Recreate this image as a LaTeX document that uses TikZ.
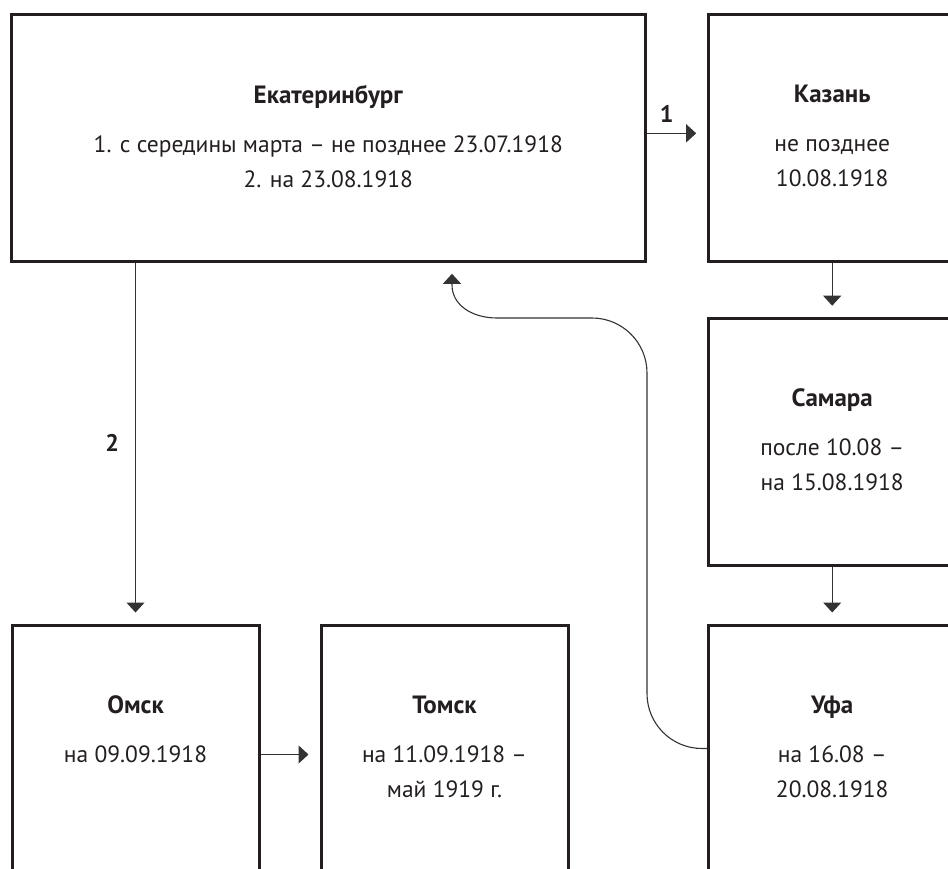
\documentclass[tikz,border=0pt]{standalone}
\usepackage{fontspec}
\setmainfont{PT Sans}
\usetikzlibrary{arrows.meta}

\definecolor{boxc}{HTML}{231F20}
\definecolor{linec}{HTML}{333333}

\newcommand{\cityname}[1]{{\fontsize{25}{35}\selectfont\bfseries #1}}

\tikzset{
  city/.style={draw=boxc, line width=3pt, minimum width=247pt, minimum height=247pt, inner sep=0pt},
  info/.style={anchor=north, align=center, inner sep=0pt, text=boxc, font=\fontsize{23.5}{35}\selectfont},
  link/.style={linec, line width=1.1pt, -{Triangle[width=18pt,length=10pt]}, shorten >=11pt},
  num/.style={inner sep=0pt, text=boxc, font=\fontsize{24}{26}\selectfont\bfseries},
}

\begin{document}
\begin{tikzpicture}[x=1pt, y=-1pt]
\clip (0,0) rectangle (948,868);

% boxes
\node[city, minimum width=634pt] (ekb) at (328.3,137.8) {};
\node[city] (kazan) at (832.2,137.8) {};
\node[city] (samara) at (832.2,441.7) {};
\node[city] (ufa) at (832.2,748.5) {};
\node[city] (omsk) at (135.5,748.5) {};
\node[city] (tomsk) at (444.5,748.5) {};

% texts
\node[info] (ekbtxt) at ([yshift=-72pt]ekb.north) {\cityname{Екатеринбург}\\[14pt]1. с середины марта – не позднее 23.07.1918\\2. на 23.08.1918};
\node[info] (kazantxt) at ([yshift=-72pt]kazan.north) {\cityname{Казань}\\[14pt]не позднее\\10.08.1918};
\node[info] (samaratxt) at ([yshift=-72pt]samara.north) {\cityname{Самара}\\[14pt]после 10.08 –\\на 15.08.1918};
\node[info] (ufatxt) at ([yshift=-72pt]ufa.north) {\cityname{Уфа}\\[14pt]на 16.08 –\\20.08.1918};
\node[info] (omsktxt) at ([yshift=-72pt]omsk.north) {\cityname{Омск}\\[14pt]на 09.09.1918};
\node[info] (tomsktxt) at ([yshift=-72pt]tomsk.north) {\cityname{Томск}\\[14pt]на 11.09.1918 –\\май 1919 г.};

% connectors
\draw[link] ([yshift=4.5pt]ekb.east) -- node[num, pos=0.33, above=10pt]{1} ([yshift=4.5pt]kazan.west);
\draw[link] (ekb.south -| omsk.north) -- node[num, left=16pt]{2} (omsk.north);
\draw[link] (kazan.south) -- (samara.north);
\draw[link] (samara.south) -- (ufa.north);
\draw[link] ([yshift=-6pt]omsk.east) -- ([yshift=-6pt]tomsk.west);

\coordinate (backx) at (452,0);
\draw[link] (ufa.west) -- (702,748.5) .. controls (671.6,748.5) and (647,723.9) .. (647,693.5)
  -- (647,373) .. controls (647,342.6) and (622.4,318) .. (592,318)
  -- (497,318) .. controls (472,318) and (452,305) .. (452,285) -- (ekb.south -| backx);
\end{tikzpicture}
\end{document}
